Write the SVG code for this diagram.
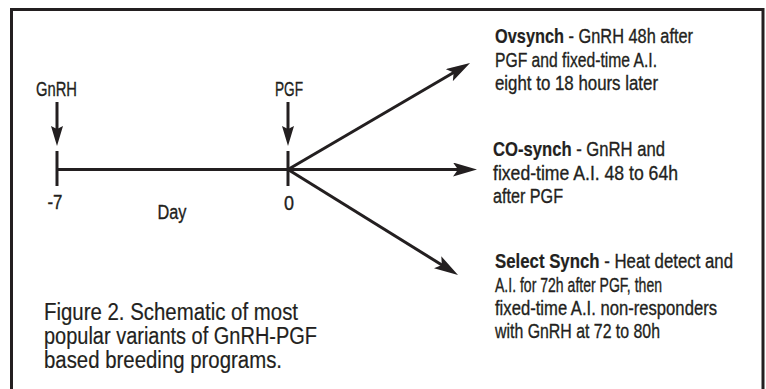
<svg xmlns="http://www.w3.org/2000/svg" width="766" height="389" viewBox="0 0 766 389">
<style>
text{font-family:"Liberation Sans",Arial,sans-serif;fill:#231f20;stroke:#231f20;stroke-width:0.35}
.lbl{font-size:20px}
.desc{font-size:20.5px}
.b{font-weight:bold;stroke-width:0.2}
.cap{font-size:23.5px;stroke-width:0.2}
.ln{stroke:#231f20;stroke-width:3;fill:none}
</style>
<defs>
<marker id="ah" markerUnits="userSpaceOnUse" viewBox="0 0 24 14" refX="14" refY="7" markerWidth="24" markerHeight="14" orient="auto">
<path d="M0,0 L24,7 L0,14 L5,7 z" fill="#231f20"/>
</marker>
<marker id="dh" markerUnits="userSpaceOnUse" viewBox="0 0 20 12" refX="12" refY="6" markerWidth="20" markerHeight="12" orient="auto">
<path d="M0,0 L20,6 L0,12 L3,6 z" fill="#231f20"/>
</marker>
</defs>
<rect width="766" height="389" fill="#ffffff"/>
<path class="ln" d="M11.5,389 V9.5 H763 V389"/>
<g id="timeline">
<line class="ln" x1="57" y1="169.5" x2="288" y2="169.5"/>
<line class="ln" x1="57" y1="151" x2="57" y2="186"/>
<line class="ln" x1="288" y1="151" x2="288" y2="186"/>
<text class="lbl" x="55" y="209" text-anchor="middle" textLength="15" lengthAdjust="spacingAndGlyphs">-7</text>
<text class="lbl" x="289" y="210" text-anchor="middle" textLength="10" lengthAdjust="spacingAndGlyphs">0</text>
<text class="lbl" x="172" y="219" text-anchor="middle" textLength="29" lengthAdjust="spacingAndGlyphs">Day</text>
</g>
<g id="gnrh">
<text class="lbl" x="36" y="96" textLength="41" lengthAdjust="spacingAndGlyphs">GnRH</text>
</g>
<g id="pgf">
<text class="lbl" x="275" y="96" textLength="28" lengthAdjust="spacingAndGlyphs">PGF</text>
</g>
<g id="ovsynch">
<text class="desc" x="495" y="43" textLength="198" lengthAdjust="spacingAndGlyphs"><tspan class="b">Ovsynch</tspan> - GnRH 48h after</text>
<text class="desc" x="495" y="67" textLength="162" lengthAdjust="spacingAndGlyphs">PGF and fixed-time A.I.</text>
<text class="desc" x="495" y="90" textLength="163" lengthAdjust="spacingAndGlyphs">eight to 18 hours later</text>
</g>
<g id="cosynch">
<text class="desc" x="493" y="156" textLength="172" lengthAdjust="spacingAndGlyphs"><tspan class="b">CO-synch</tspan> - GnRH and</text>
<text class="desc" x="493" y="180" textLength="185" lengthAdjust="spacingAndGlyphs">fixed-time A.I. 48 to 64h</text>
<text class="desc" x="493" y="203" textLength="70" lengthAdjust="spacingAndGlyphs">after PGF</text>
</g>
<g id="selectsynch">
<text class="desc" x="495" y="268" textLength="238" lengthAdjust="spacingAndGlyphs"><tspan class="b">Select Synch</tspan> - Heat detect and</text>
<text class="desc" x="495" y="292" textLength="167" lengthAdjust="spacingAndGlyphs">A.I. for 72h after PGF, then</text>
<text class="desc" x="495" y="315" textLength="222" lengthAdjust="spacingAndGlyphs">fixed-time A.I. non-responders</text>
<text class="desc" x="495" y="338" textLength="165" lengthAdjust="spacingAndGlyphs">with GnRH at 72 to 80h</text>
</g>
<g id="caption">
<text class="cap" x="44" y="320" textLength="254" lengthAdjust="spacingAndGlyphs">Figure 2. Schematic of most</text>
<text class="cap" x="44" y="344" textLength="273" lengthAdjust="spacingAndGlyphs">popular variants of GnRH-PGF</text>
<text class="cap" x="44" y="368" textLength="238" lengthAdjust="spacingAndGlyphs">based breeding programs.</text>
</g>
<g id="connectors">
<line class="ln" x1="57" y1="102" x2="57" y2="138" marker-end="url(#dh)"/>
<line class="ln" x1="288" y1="102" x2="288" y2="138" marker-end="url(#dh)"/>
<line class="ln" x1="288" y1="169.5" x2="461.4" y2="68.05" marker-end="url(#ah)"/>
<line class="ln" x1="288" y1="169.5" x2="467" y2="169.5" marker-end="url(#ah)"/>
<line class="ln" x1="288" y1="169.5" x2="449.5" y2="269.7" marker-end="url(#ah)"/>
</g>
</svg>
